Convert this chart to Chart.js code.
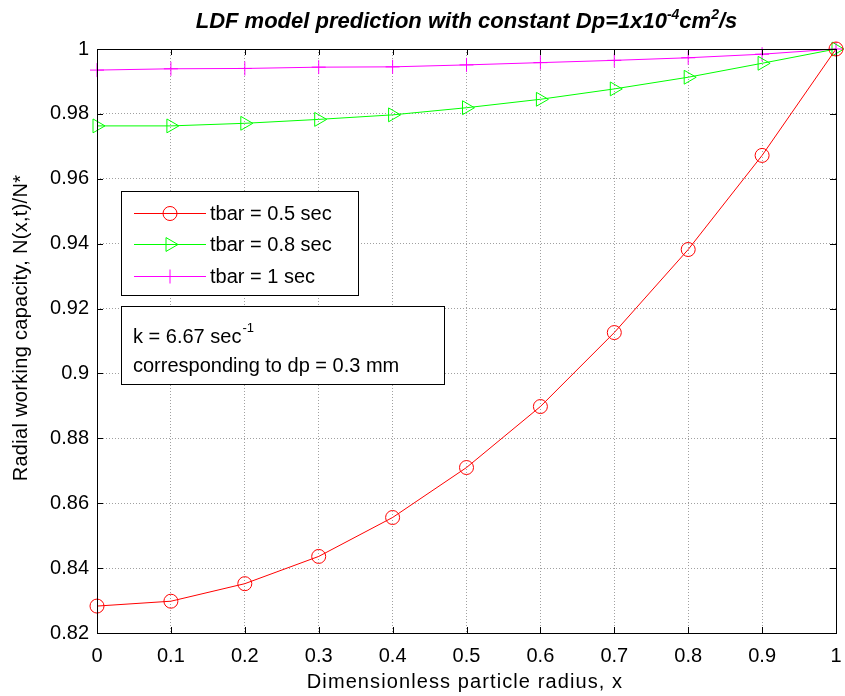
<!DOCTYPE html>
<html>
<head>
<meta charset="utf-8">
<script src="https://cdn.jsdelivr.net/npm/chart.js@4.4.0/dist/chart.umd.min.js"></script>
<style>
  html, body { margin: 0; padding: 0; background: #fff; }
  #wrap { width: 845px; height: 696px; }
</style>
</head>
<body>
<div id="wrap"><canvas id="ldf_chart"></canvas></div>
<script>
// data
const radius = [0, 0.1, 0.2, 0.3, 0.4, 0.5, 0.6, 0.7, 0.8, 0.9, 1];
const tbar05 = [0.8283, 0.8298, 0.8352, 0.8436, 0.8556, 0.8710, 0.8898, 0.9126, 0.9382, 0.9672, 1.0];
const tbar08 = [0.9763, 0.9763, 0.9771, 0.9783, 0.9797, 0.9819, 0.9845, 0.9877, 0.9913, 0.9956, 1.0];
const tbar1  = [0.9935, 0.9939, 0.9940, 0.9944, 0.9945, 0.9951, 0.9958, 0.9965, 0.9973, 0.9984, 1.0];
const seriesNames = ["tbar = 0.5 sec", "tbar = 0.8 sec", "tbar = 1 sec"];
const seriesColors = ["#ff0000", "#00ff00", "#ff00ff"];
const xTicks = [0, 0.1, 0.2, 0.3, 0.4, 0.5, 0.6, 0.7, 0.8, 0.9, 1];
const yTicks = [0.82, 0.84, 0.86, 0.88, 0.9, 0.92, 0.94, 0.96, 0.98, 1];

const FONT = '"Liberation Sans", Arial, sans-serif';

function pts(ys) { return radius.map((x, i) => ({x: x, y: ys[i]})); }

//------------------------------------------

// box + inward tick marks, matlab style
const frame = {
  id: 'frame',
  afterDatasetsDraw(chart) {
    const {ctx, chartArea: {left, right, top, bottom}, scales: {x, y}} = chart;
    ctx.save();
    ctx.strokeStyle = '#000';
    ctx.lineWidth = 1;
    ctx.beginPath();
    xTicks.forEach(v => {
      const px = Math.round(x.getPixelForValue(v)) + 0.5;
      ctx.moveTo(px, bottom); ctx.lineTo(px, bottom - 6);
      ctx.moveTo(px, top); ctx.lineTo(px, top + 6);
    });
    yTicks.forEach(v => {
      const py = Math.round(y.getPixelForValue(v)) + 0.5;
      ctx.moveTo(left, py); ctx.lineTo(left + 6, py);
      ctx.moveTo(right, py); ctx.lineTo(right - 6, py);
    });
    ctx.stroke();
    ctx.strokeRect(Math.round(left) + 0.5, Math.round(top) + 0.5, Math.round(right - left), Math.round(bottom - top));
    ctx.restore();
  }
};

//------------------------------------------

// title, axis labels, legend box, text box
const texts = {
  id: 'texts',
  afterDraw(chart) {
    const {ctx, chartArea: {left, right, top, bottom}} = chart;
    ctx.save();
    ctx.fillStyle = '#000';

    // title with superscripts
    const parts = [
      ['LDF model prediction with constant Dp=1x10', false],
      ['-4', true], ['cm', false], ['2', true], ['/s', false]
    ];
    const big = 'italic bold 22px ' + FONT, small = 'italic bold 14px ' + FONT;
    let tw = 0;
    parts.forEach(p => { ctx.font = p[1] ? small : big; tw += ctx.measureText(p[0]).width; });
    let tx = (left + right) / 2 - tw / 2;
    ctx.textBaseline = 'alphabetic';
    ctx.textAlign = 'left';
    parts.forEach(p => {
      ctx.font = p[1] ? small : big;
      ctx.fillText(p[0], tx, p[1] ? 19 : 28);
      tx += ctx.measureText(p[0]).width;
    });

    // axis titles
    ctx.font = '20px ' + FONT;
    ctx.textAlign = 'center';
    ctx.textBaseline = 'middle';
    ctx.letterSpacing = '1.1px';
    ctx.fillText('Dimensionless particle radius, x', 465, 682);
    ctx.letterSpacing = '0.3px';
    ctx.save();
    ctx.translate(21, 328);
    ctx.rotate(-Math.PI / 2);
    ctx.fillText('Radial working capacity, N(x,t)/N*', 0, 0);
    ctx.restore();
    ctx.letterSpacing = '0px';

    // legend box
    ctx.fillStyle = '#fff';
    ctx.fillRect(121, 191, 238, 105);
    ctx.strokeStyle = '#000';
    ctx.lineWidth = 1;
    ctx.strokeRect(121.5, 191.5, 237, 104);
    const rows = [213, 244, 276];
    const styles = ['circle', 'triangle', 'cross'];
    rows.forEach((ry, i) => {
      ctx.strokeStyle = seriesColors[i];
      ctx.beginPath();
      ctx.moveTo(134, ry + 0.5); ctx.lineTo(206, ry + 0.5);
      ctx.stroke();
      ctx.fillStyle = 'rgba(0,0,0,0)';
      Chart.helpers.drawPoint(ctx, {pointStyle: styles[i], radius: i === 1 ? 8 : 7, rotation: i === 1 ? 90 : 0, borderWidth: 1}, 170, ry + 0.5);
      ctx.fillStyle = '#000';
      ctx.font = '20px ' + FONT;
      ctx.textAlign = 'left';
      ctx.textBaseline = 'middle';
      ctx.fillText(seriesNames[i], 210, ry + 1);
    });

    // parameter box
    ctx.fillStyle = '#fff';
    ctx.fillRect(121, 306, 324, 79);
    ctx.strokeStyle = '#000';
    ctx.strokeRect(121.5, 306.5, 323, 78);
    ctx.fillStyle = '#000';
    ctx.textBaseline = 'alphabetic';
    ctx.font = '20px ' + FONT;
    const l1 = 'k = 6.67 sec';
    ctx.fillText(l1, 133, 343);
    const w1 = ctx.measureText(l1).width;
    ctx.font = '13px ' + FONT;
    ctx.fillText('-1', 133 + w1 + 1, 332);
    ctx.font = '20px ' + FONT;
    ctx.fillText('corresponding to dp = 0.3 mm', 133, 372);

    ctx.restore();
  }
};

//------------------------------------------

const mkSet = (i, data, style) => ({
  label: seriesNames[i],
  data: pts(data),
  borderColor: seriesColors[i],
  backgroundColor: 'transparent',
  borderWidth: 1,
  pointStyle: style,
  pointRadius: style === 'triangle' ? 8 : 7,
  pointBorderWidth: 1,
  pointBorderColor: seriesColors[i],
  pointBackgroundColor: 'transparent',
  pointRotation: style === 'triangle' ? 90 : 0,
  tension: 0,
  clip: false
});

const config = {
  type: 'line',
  data: {
    datasets: [
      mkSet(0, tbar05, 'circle'),
      mkSet(1, tbar08, 'triangle'),
      mkSet(2, tbar1, 'cross')
    ]
  },
  options: {
    responsive: true,
    maintainAspectRatio: false,
    animation: false,
    layout: {padding: {top: 49, right: 8, left: 0, bottom: 0}},
    plugins: {legend: {display: false}, title: {display: false}, tooltip: {enabled: false}},
    scales: {
      x: {
        type: 'linear', min: 0, max: 1,
        afterBuildTicks: s => { s.ticks = xTicks.map(v => ({value: v})); },
        afterFit: s => { s.height = 63; s.paddingLeft = 0; s.paddingRight = 0; },
        grid: {color: '#a0a0a0', drawTicks: false},
        border: {display: false, dash: [1, 2]},
        ticks: {color: '#000', font: {family: FONT, size: 20}, padding: 11, maxRotation: 0,
                callback: v => String(+v.toFixed(1))}
      },
      y: {
        type: 'linear', min: 0.82, max: 1,
        afterBuildTicks: s => { s.ticks = yTicks.map(v => ({value: v})); },
        afterFit: s => { s.width = 97; s.paddingTop = 0; s.paddingBottom = 0; },
        grid: {color: '#a0a0a0', drawTicks: false},
        border: {display: false, dash: [1, 2]},
        ticks: {color: '#000', font: {family: FONT, size: 20}, padding: 8,
                callback: v => String(+v.toFixed(2))}
      }
    }
  },
  plugins: [frame, texts]
};

const ldf_chart = new Chart(document.getElementById('ldf_chart'), config);
</script>
</body>
</html>
